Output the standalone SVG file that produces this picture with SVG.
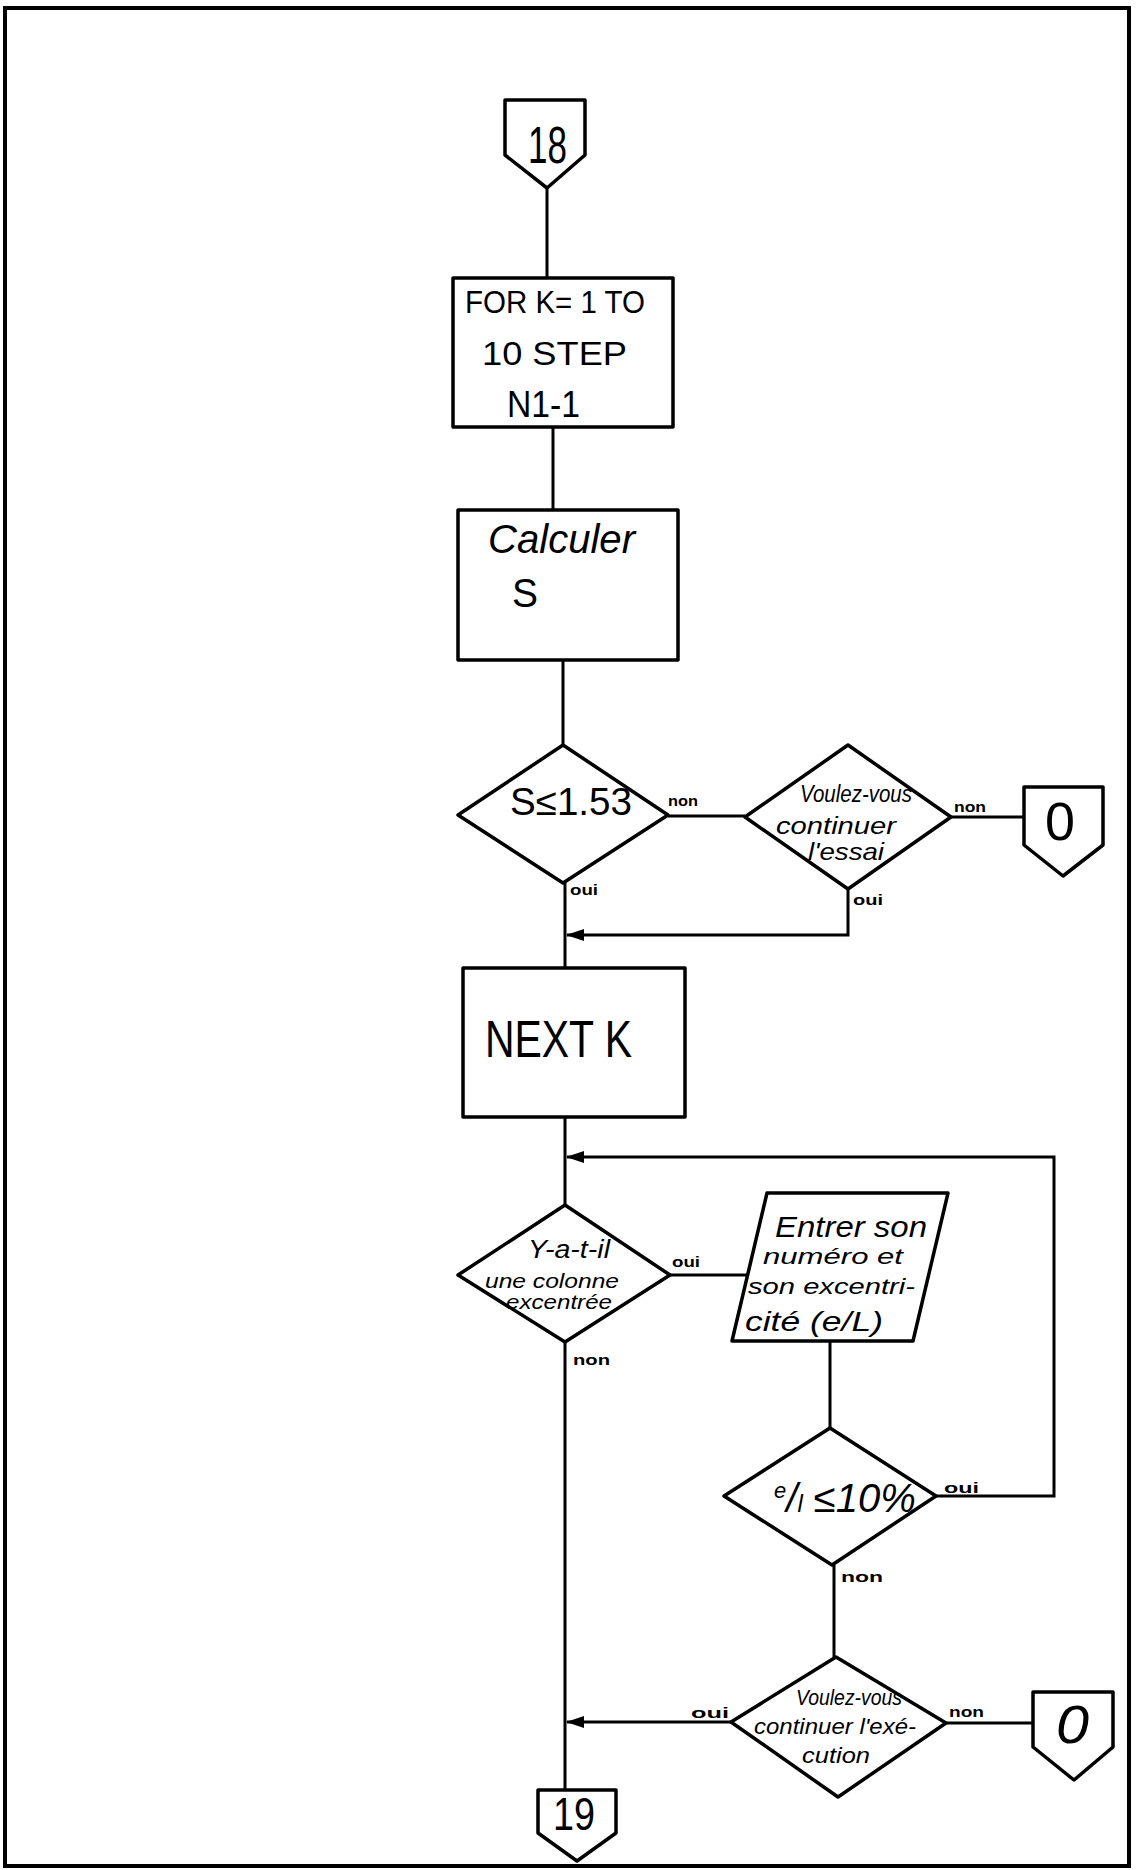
<svg xmlns="http://www.w3.org/2000/svg" width="1136" height="1870" viewBox="0 0 1136 1870">
<defs>
<marker id="arr" viewBox="0 0 18 12" refX="17" refY="6" markerWidth="18" markerHeight="12" markerUnits="userSpaceOnUse" orient="auto">
<path d="M0,0 L18,6 L0,12 Z" fill="#000"/>
</marker>
</defs>
<style>
.shape{fill:#fff;stroke:#000;stroke-width:3.5;stroke-linejoin:round}
.line{fill:none;stroke:#000;stroke-width:3}
.t{font-family:"Liberation Sans",Arial,sans-serif;fill:#000}
.hand{font-family:"Liberation Sans",Arial,sans-serif;font-style:italic;fill:#000}
.lbl{font-family:"Liberation Sans",Arial,sans-serif;font-weight:bold;font-size:15px;fill:#000}
</style>
<rect x="0" y="0" width="1136" height="1870" fill="#fff"/>
<rect id="page" x="5" y="8" width="1124" height="1858" fill="none" stroke="#000" stroke-width="4"/>

<g id="connectors">
<line class="line" x1="547" y1="188" x2="547" y2="278"/>
<line class="line" x1="553" y1="427" x2="553" y2="510"/>
<line class="line" x1="563" y1="660" x2="563" y2="745"/>
<line class="line" x1="668" y1="816" x2="745" y2="816"/>
<line class="line" x1="951" y1="817" x2="1024" y2="817"/>
<line class="line" x1="565" y1="883" x2="565" y2="968"/>
<polyline class="line" points="848,889 848,935 567,935" marker-end="url(#arr)"/>
<line class="line" x1="565" y1="1117" x2="565" y2="1205"/>
<polyline class="line" points="936,1496 1054,1496 1054,1157 567,1157" marker-end="url(#arr)"/>
<line class="line" x1="670" y1="1275" x2="748" y2="1275"/>
<line class="line" x1="830" y1="1341" x2="830" y2="1428"/>
<line class="line" x1="834" y1="1565" x2="834" y2="1657"/>
<line class="line" x1="731" y1="1722" x2="567" y2="1722" marker-end="url(#arr)"/>
<line class="line" x1="946" y1="1723" x2="1033" y2="1723"/>
<line class="line" x1="565" y1="1342" x2="565" y2="1790"/>
<text class="lbl" x="668" y="806" textLength="30" lengthAdjust="spacingAndGlyphs">non</text>
<text class="lbl" x="570" y="895" textLength="28" lengthAdjust="spacingAndGlyphs">oui</text>
<text class="lbl" x="954" y="812" textLength="32" lengthAdjust="spacingAndGlyphs">non</text>
<text class="lbl" x="853" y="905" textLength="30" lengthAdjust="spacingAndGlyphs">oui</text>
<text class="lbl" x="672" y="1267" textLength="28" lengthAdjust="spacingAndGlyphs">oui</text>
<text class="lbl" x="573" y="1365" textLength="37" lengthAdjust="spacingAndGlyphs">non</text>
<text class="lbl" x="944" y="1493" textLength="35" lengthAdjust="spacingAndGlyphs">oui</text>
<text class="lbl" x="841" y="1582" font-size="18" textLength="42" lengthAdjust="spacingAndGlyphs">non</text>
<text class="lbl" x="691" y="1718" textLength="38" lengthAdjust="spacingAndGlyphs">oui</text>
<text class="lbl" x="949" y="1717" textLength="35" lengthAdjust="spacingAndGlyphs">non</text>
</g>

<g id="c18">
<path class="shape" d="M505,100 L585,100 L585,155 L547,188 L505,155 Z"/>
<text class="t" x="528" y="163" font-size="52" textLength="39" lengthAdjust="spacingAndGlyphs">18</text>
</g>

<g id="for">
<rect class="shape" x="453" y="278" width="220" height="149"/>
<text class="t" x="465" y="313" font-size="32" textLength="180" lengthAdjust="spacingAndGlyphs">FOR K= 1 TO</text>
<text class="t" x="482" y="365" font-size="34" textLength="145" lengthAdjust="spacingAndGlyphs">10 STEP</text>
<text class="t" x="507" y="417" font-size="36" textLength="73" lengthAdjust="spacingAndGlyphs">N1-1</text>
</g>

<g id="calc">
<rect class="shape" x="458" y="510" width="220" height="150"/>
<text class="hand" x="488" y="553" font-size="40" textLength="147" lengthAdjust="spacingAndGlyphs">Calculer</text>
<text class="t" x="512" y="607" font-size="40" textLength="26" lengthAdjust="spacingAndGlyphs">S</text>
</g>

<g id="d1">
<polygon class="shape" points="563,745 668,815 563,883 458,815"/>
<text class="t" x="510" y="815" font-size="38" textLength="122" lengthAdjust="spacingAndGlyphs">S≤1.53</text>
</g>

<g id="d2">
<polygon class="shape" points="848,745 951,817 848,889 745,817"/>
<text class="hand" x="800" y="802" font-size="24" textLength="112" lengthAdjust="spacingAndGlyphs">Voulez-vous</text>
<text class="hand" x="776" y="834" font-size="24" textLength="120" lengthAdjust="spacingAndGlyphs">continuer</text>
<text class="hand" x="808" y="860" font-size="24" textLength="76" lengthAdjust="spacingAndGlyphs">l'essai</text>
</g>

<g id="c0a">
<path class="shape" d="M1024,787 L1103,787 L1103,845 L1063,876 L1024,845 Z"/>
<text class="t" x="1045" y="840" font-size="54" textLength="30" lengthAdjust="spacingAndGlyphs">0</text>
</g>

<g id="next">
<rect class="shape" x="463" y="968" width="222" height="149"/>
<text class="t" x="485" y="1057" font-size="52" textLength="147" lengthAdjust="spacingAndGlyphs">NEXT K</text>
</g>

<g id="d3">
<polygon class="shape" points="565,1205 670,1275 565,1342 458,1275"/>
<text class="hand" x="528" y="1258" font-size="26" textLength="82" lengthAdjust="spacingAndGlyphs">Y-a-t-il</text>
<text class="hand" x="485" y="1288" font-size="20" textLength="134" lengthAdjust="spacingAndGlyphs">une colonne</text>
<text class="hand" x="506" y="1309" font-size="20" textLength="106" lengthAdjust="spacingAndGlyphs">excentrée</text>
</g>

<g id="input">
<polygon class="shape" points="767,1193 948,1193 913,1341 732,1341"/>
<text class="hand" x="775" y="1237" font-size="30" textLength="152" lengthAdjust="spacingAndGlyphs">Entrer son</text>
<text class="hand" x="763" y="1264" font-size="22" textLength="140" lengthAdjust="spacingAndGlyphs">numéro et</text>
<text class="hand" x="748" y="1294" font-size="22" textLength="167" lengthAdjust="spacingAndGlyphs">son excentri-</text>
<text class="hand" x="745" y="1331" font-size="28" textLength="138" lengthAdjust="spacingAndGlyphs">cité (e/L)</text>
</g>

<g id="d4">
<polygon class="shape" points="830,1428 936,1496 832,1565 724,1496"/>
<text class="hand" x="774" y="1512" font-size="40"><tspan font-size="22" dy="-14">e</tspan><tspan dy="14">/</tspan><tspan font-size="24">l</tspan><tspan> ≤10%</tspan></text>
</g>

<g id="d5">
<polygon class="shape" points="836,1657 946,1723 838,1797 731,1722"/>
<text class="hand" x="796" y="1705" font-size="22" textLength="106" lengthAdjust="spacingAndGlyphs">Voulez-vous</text>
<text class="hand" x="754" y="1734" font-size="22" textLength="162" lengthAdjust="spacingAndGlyphs">continuer l'exé-</text>
<text class="hand" x="802" y="1763" font-size="22" textLength="68" lengthAdjust="spacingAndGlyphs">cution</text>
</g>

<g id="c0b">
<path class="shape" d="M1033,1692 L1113,1692 L1113,1747 L1074,1780 L1033,1747 Z"/>
<text class="hand" x="1056" y="1743" font-size="54" textLength="33" lengthAdjust="spacingAndGlyphs">0</text>
</g>

<g id="c19">
<path class="shape" d="M538,1790 L616,1790 L616,1833 L577,1861 L538,1833 Z"/>
<text class="t" x="553" y="1830" font-size="46" textLength="42" lengthAdjust="spacingAndGlyphs">19</text>
</g>
</svg>
